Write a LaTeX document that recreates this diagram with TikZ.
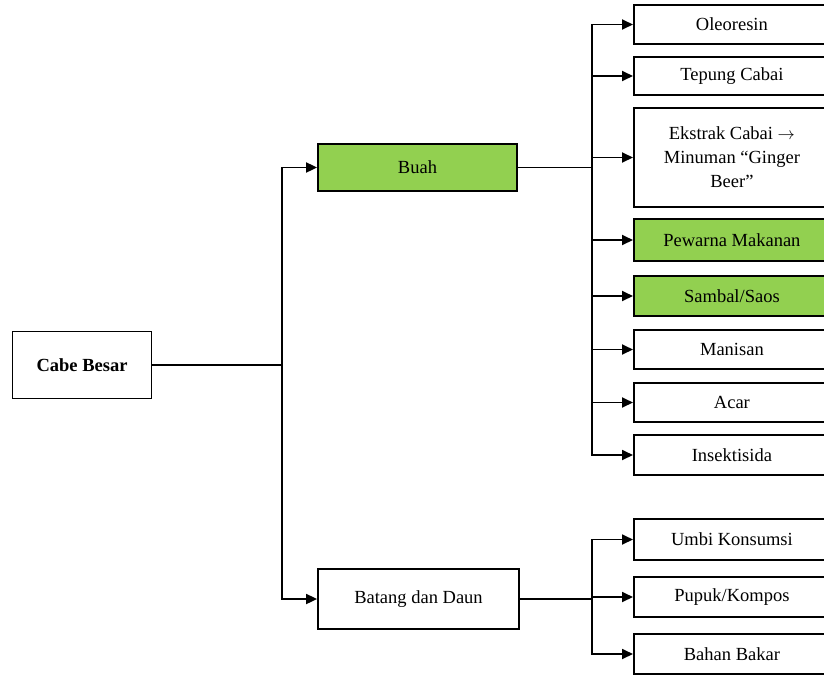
\documentclass[tikz,border=0pt]{standalone}
\usepackage{xcolor}
\usepackage{fontspec}
\setmainfont{Liberation Serif}
\usepackage{tikz}
\usetikzlibrary{positioning,arrows.meta}

\definecolor{leafgreen}{HTML}{92D050}

\begin{document}
\begin{tikzpicture}[
  x=1pt, y=-1pt,
  box/.style={draw, line width=1.8pt, align=center, inner sep=2pt, font=\fontsize{18.5}{24}\selectfont},
  item/.style={box, anchor=west, minimum width=196pt},
  hl/.style={fill=leafgreen},
  arr/.style={-{Triangle[length=11pt, width=10pt]}, line width=1.8pt},
  link/.style={line width=1.8pt},
]
  \useasboundingbox (0,0) rectangle (824,675);
  \clip (0,0) rectangle (824,675);

  \node[box, minimum width=139pt, minimum height=67pt, font=\fontsize{18.5}{24}\selectfont\bfseries] (cabe) at (82,365) {Cabe Besar};
  \node[box, hl, minimum width=199pt, minimum height=47pt] (buah) at (417.5,167.5) {Buah};
  \node[box, minimum width=201pt, minimum height=60pt] (batang) at (418.5,599) {Batang dan Daun};

  % hasil dari buah
  \node[item, minimum height=39pt] (oleo) at (633,24.5) {Oleoresin};
  \node[item, minimum height=38pt] (tepung) at (633,76) {Tepung Cabai};
  \node[item, minimum height=99pt] (ekstrak) at (633,157.5) {Ekstrak Cabai $\rightarrow$\\Minuman ``Ginger\\Beer''};
  \node[item, hl, minimum height=42pt] (pewarna) at (633,240) {Pewarna Makanan};
  \node[item, hl, minimum height=40pt] (sambal) at (633,296) {Sambal/Saos};
  \node[item, minimum height=39pt] (manisan) at (633,349.5) {Manisan};
  \node[item, minimum height=39pt] (acar) at (633,402.5) {Acar};
  \node[item, minimum height=40pt] (insek) at (633,455) {Insektisida};

  % hasil dari batang dan daun
  \node[item, minimum height=41pt] (umbi) at (633,539.5) {Umbi Konsumsi};
  \node[item, minimum height=40pt] (pupuk) at (633,597) {Pupuk/Kompos};
  \node[item, minimum height=40pt] (bakar) at (633,654) {Bahan Bakar};

  \coordinate (split) at (282,365);
  \coordinate (fork) at (592,167.5);
  \coordinate (fork2) at (592,599);

  \draw[link] (cabe.east) -- (split);
  \draw[arr] (split) |- (buah.west);
  \draw[arr] (split) |- (batang.west);

  \draw[link] (buah.east) -- (fork);
  \foreach \n in {oleo,tepung,ekstrak,pewarna,sambal,manisan,acar,insek}
    \draw[arr] (fork) |- (\n.west);

  \draw[link] (batang.east) -- (fork2);
  \foreach \n in {umbi,pupuk,bakar}
    \draw[arr] (fork2) |- (\n.west);
\end{tikzpicture}
\end{document}
